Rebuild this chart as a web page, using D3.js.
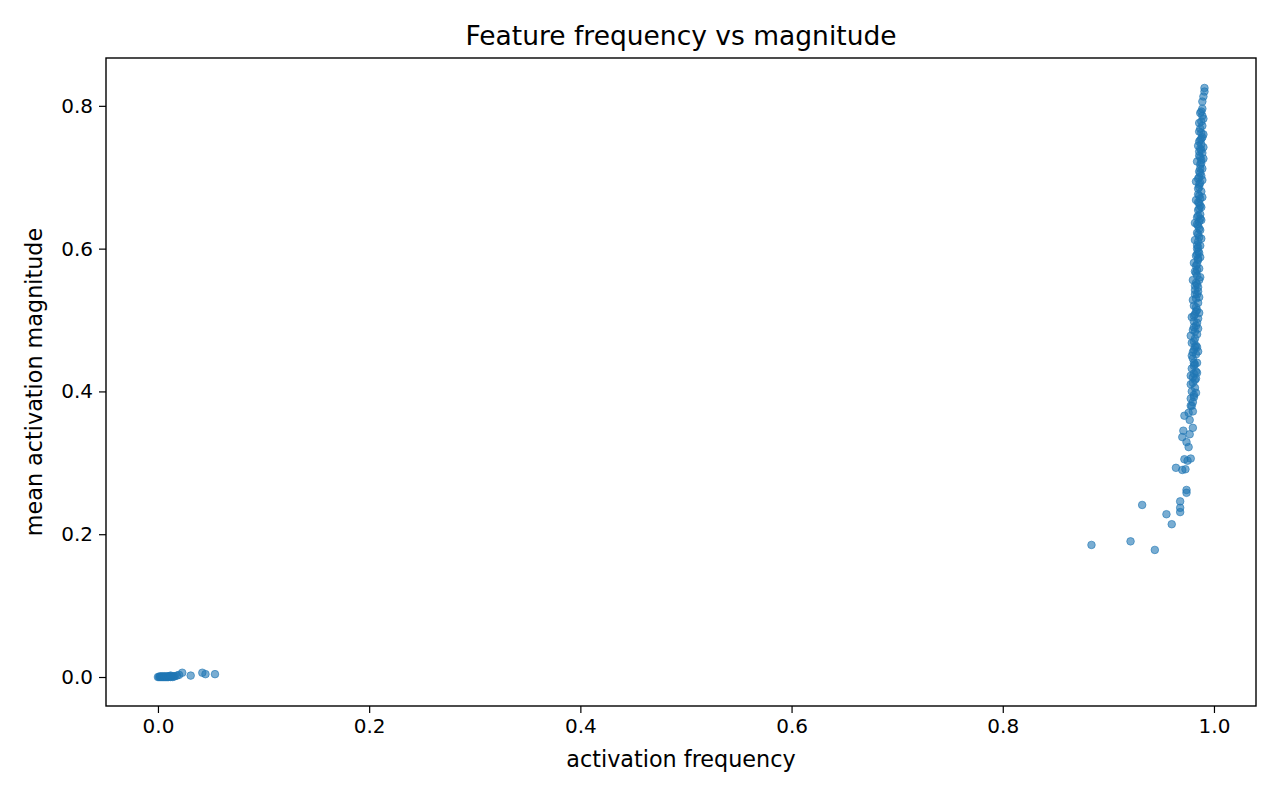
<!DOCTYPE html>
<html><head><meta charset="utf-8">
<script src="https://cdn.jsdelivr.net/npm/d3@7"></script>
<style>body{margin:0;background:#fff}text{font-family:"DejaVu Sans",sans-serif}</style>
</head><body><div id="chart"></div>
<script>
// rare features, near the origin: [frequency, magnitude]
const rarePoints = [
  [0.000,0.000],[0.001,0.000],[0.002,0.000],[0.003,0.000],[0.004,0.000],[0.005,0.000],
  [0.006,0.000],[0.007,0.000],[0.008,0.000],[0.009,0.000],[0.010,0.000],[0.011,0.001],
  [0.012,0.000],[0.013,0.001],[0.014,0.000],[0.015,0.001],[0.016,0.001],[0.018,0.002],
  [0.002,0.001],[0.004,0.001],[0.006,0.001],[0.008,0.001],[0.010,0.001],[0.012,0.002],
  [0.020,0.003],[0.023,0.006],[0.031,0.002],[0.042,0.006],[0.045,0.004],[0.054,0.004]
];
// stray features in the tail of the dense group
const tailPoints = [
  [0.884,0.185],[0.921,0.190],[0.944,0.178],[0.932,0.241],[0.955,0.228],[0.960,0.214],
  [0.968,0.246],[0.968,0.237],[0.968,0.231],[0.974,0.262],[0.974,0.258],[0.964,0.293],
  [0.970,0.290],[0.973,0.291],[0.972,0.305],[0.975,0.303],[0.978,0.306],[0.970,0.336],
  [0.971,0.345],[0.974,0.329],[0.976,0.322],[0.972,0.366],[0.977,0.360],[0.980,0.349],
  [0.977,0.340],[0.976,0.370],[0.978,0.380],[0.980,0.372]
];
// main dense group of frequent features
const densePoints = [
  [0.980,0.385],[0.981,0.392],[0.979,0.400],[0.982,0.405],[0.980,0.412],[0.983,0.418],
  [0.981,0.425],[0.979,0.432],[0.982,0.438],[0.984,0.440],[0.980,0.446],[0.983,0.452],
  [0.981,0.458],[0.984,0.462],[0.979,0.468],[0.982,0.474],[0.984,0.480],[0.980,0.486],
  [0.983,0.492],[0.981,0.498],[0.985,0.502],[0.982,0.508],[0.984,0.514],[0.981,0.520],
  [0.985,0.524],[0.983,0.530],[0.984,0.536],[0.982,0.542],[0.985,0.546],[0.983,0.552],
  [0.986,0.556],[0.984,0.562],[0.982,0.568],[0.986,0.572],[0.984,0.578],[0.985,0.584],
  [0.983,0.590],[0.986,0.594],[0.984,0.600],[0.987,0.604],[0.985,0.610],[0.986,0.616],
  [0.984,0.622],[0.987,0.626],[0.985,0.632],[0.986,0.638],[0.984,0.644],[0.987,0.648],
  [0.985,0.654],[0.988,0.658],[0.986,0.664],[0.987,0.670],[0.985,0.676],[0.988,0.680],
  [0.986,0.686],[0.987,0.692],[0.985,0.698],[0.988,0.702],[0.986,0.708],[0.989,0.712],
  [0.987,0.718],[0.988,0.724],[0.986,0.730],[0.989,0.734],[0.987,0.740],[0.988,0.746],
  [0.987,0.752],[0.989,0.756],[0.988,0.762],[0.987,0.768],[0.989,0.772],[0.988,0.778],
  [0.989,0.786],[0.988,0.792],[0.989,0.806],[0.990,0.813],[0.991,0.820],[0.991,0.825],
  [0.981,0.395],[0.983,0.428],[0.980,0.455],[0.982,0.484],[0.983,0.512],[0.985,0.540],
  [0.983,0.566],[0.985,0.596],[0.986,0.628],[0.987,0.660],[0.986,0.690],[0.988,0.720],
  [0.986,0.750],[0.987,0.712],[0.985,0.665],[0.984,0.605],[0.982,0.548],[0.981,0.470],
  [0.978,0.410],[0.979,0.380],[0.981,0.440],[0.984,0.496],[0.985,0.586],[0.987,0.642],
  [0.978,0.390],[0.983,0.398],[0.978,0.422],[0.984,0.426],[0.979,0.450],[0.985,0.456],
  [0.978,0.478],[0.985,0.488],[0.979,0.504],[0.986,0.510],[0.980,0.528],[0.986,0.532],
  [0.980,0.556],[0.987,0.560],[0.981,0.580],[0.987,0.588],[0.982,0.612],[0.988,0.614],
  [0.982,0.636],[0.988,0.640],[0.983,0.668],[0.989,0.672],[0.983,0.694],[0.989,0.696],
  [0.984,0.722],[0.990,0.726],[0.985,0.744],[0.990,0.742],[0.986,0.764],[0.990,0.760],
  [0.986,0.776],[0.990,0.782],[0.987,0.790],[0.989,0.796],[0.982,0.416],[0.981,0.436],
  [0.982,0.462],[0.981,0.490],[0.983,0.518],[0.982,0.536],[0.984,0.570],[0.984,0.592],
  [0.985,0.620],[0.985,0.646],[0.986,0.674],[0.986,0.700],[0.987,0.728],[0.988,0.738],
  [0.980,0.420],[0.983,0.464],[0.981,0.506],[0.984,0.550],[0.983,0.576],[0.985,0.602],
  [0.984,0.634],[0.986,0.656],[0.985,0.684],[0.987,0.706],[0.986,0.736],[0.988,0.754]
];
const xTicks = [0.0,0.2,0.4,0.6,0.8,1.0];
const yTicks = [0.0,0.2,0.4,0.6,0.8];

const W = 1280, H = 800;
const margin = {top: 58, right: 24, bottom: 94, left: 106};
const width = W - margin.left - margin.right, height = H - margin.top - margin.bottom;

const svg = d3.select("#chart").append("svg").attr("width", W).attr("height", H);
const g = svg.append("g").attr("transform", `translate(${margin.left},${margin.top})`);

const x = d3.scaleLinear().domain([-0.0492, 1.0398]).range([0, width]);
const y = d3.scaleLinear().domain([-0.0406, 0.867]).range([height, 0]);

const allPoints = rarePoints.concat(tailPoints, densePoints);
g.selectAll("circle").data(allPoints).enter().append("circle")
  .attr("cx", d => x(d[0])).attr("cy", d => y(d[1])).attr("r", 3.8)
  .attr("fill", "#1f77b4").attr("fill-opacity", 0.6)
  .attr("stroke", "#1f77b4").attr("stroke-opacity", 0.6).attr("stroke-width", 1);

const xAxis = g.append("g").attr("transform", `translate(0,${height})`)
  .call(d3.axisBottom(x).tickValues(xTicks).tickFormat(d3.format(".1f")).tickSize(7).tickPadding(6));
const yAxis = g.append("g")
  .call(d3.axisLeft(y).tickValues(yTicks).tickFormat(d3.format(".1f")).tickSize(7).tickPadding(6));
[xAxis, yAxis].forEach(a => {
  a.select(".domain").remove();
  a.selectAll("text").attr("font-size", 20).attr("fill", "#000").style("font-family", "DejaVu Sans");
  a.selectAll("line").attr("stroke", "#000").attr("stroke-width", 1.2);
});
g.append("rect").attr("width", width).attr("height", height)
  .attr("fill", "none").attr("stroke", "#000").attr("stroke-width", 1.4);

svg.append("text").attr("x", margin.left + width / 2).attr("y", 45).attr("text-anchor", "middle")
  .attr("font-size", 26.5).text("Feature frequency vs magnitude");
svg.append("text").attr("x", margin.left + width / 2).attr("y", 767).attr("text-anchor", "middle")
  .attr("font-size", 22.3).text("activation frequency");
svg.append("text").attr("transform", `translate(42,${margin.top + height / 2}) rotate(-90)`)
  .attr("text-anchor", "middle").attr("font-size", 22.3).text("mean activation magnitude");
</script></body></html>
